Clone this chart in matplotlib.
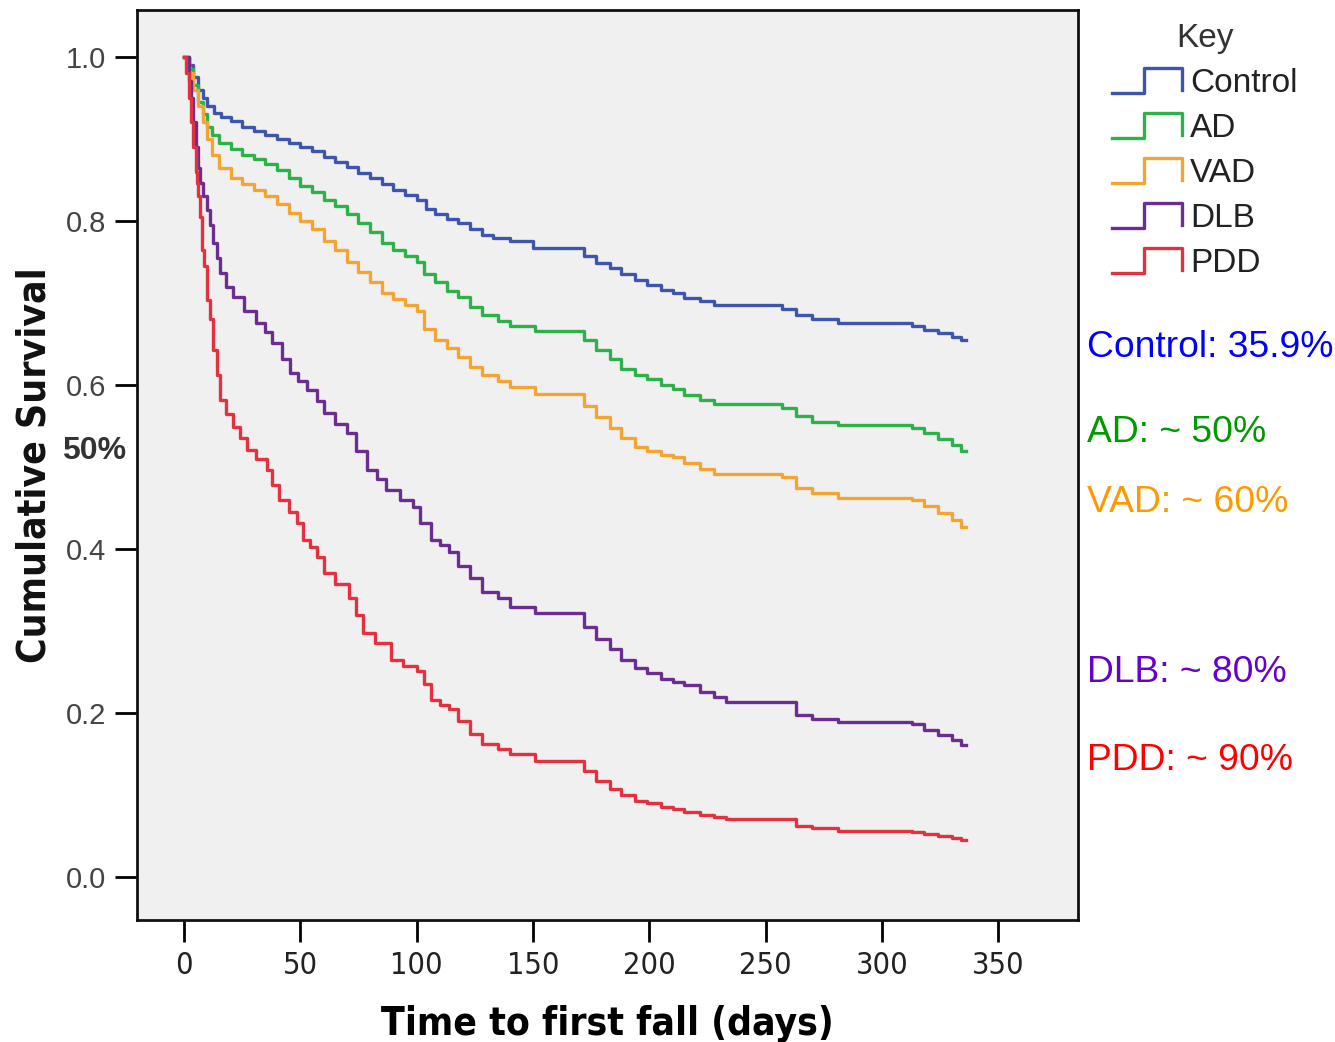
import numpy as np
import matplotlib
matplotlib.use('Agg')
import matplotlib.pyplot as plt
from matplotlib.lines import Line2D
from matplotlib.legend_handler import HandlerBase

# Kaplan-Meier step points (days, cumulative survival)
control_t = [0, 2, 4, 6, 8, 10, 13, 16, 20, 25, 30, 35, 40, 45, 50, 55, 60, 65, 70, 75,
             80, 85, 90, 95, 100, 104, 108, 113, 118, 123, 128, 133, 140, 150, 172, 177,
             183, 188, 194, 199, 205, 210, 215, 222, 228, 257, 263, 270, 281, 313, 318,
             324, 330, 334, 336]
control_s = [1.0, 0.99, 0.975, 0.96, 0.95, 0.94, 0.932, 0.927, 0.922, 0.915, 0.91, 0.905,
             0.9, 0.895, 0.89, 0.885, 0.878, 0.872, 0.866, 0.858, 0.852, 0.845, 0.838,
             0.832, 0.826, 0.815, 0.808, 0.802, 0.797, 0.79, 0.783, 0.779, 0.775, 0.767,
             0.757, 0.749, 0.742, 0.735, 0.728, 0.722, 0.716, 0.712, 0.706, 0.702, 0.698,
             0.693, 0.685, 0.68, 0.676, 0.672, 0.667, 0.663, 0.659, 0.655, 0.655]

ad_t = [0, 2, 4, 6, 8, 10, 12, 15, 20, 25, 30, 35, 40, 45, 50, 55, 60, 65, 70, 75, 80,
        85, 90, 95, 100, 103, 108, 113, 118, 123, 128, 135, 140, 151, 172, 177, 183, 188,
        194, 199, 205, 210, 215, 222, 228, 257, 263, 270, 281, 313, 318, 324, 330, 334, 336]
ad_s = [1.0, 0.985, 0.965, 0.945, 0.93, 0.915, 0.905, 0.895, 0.887, 0.88, 0.875, 0.869,
        0.862, 0.852, 0.843, 0.835, 0.826, 0.818, 0.808, 0.798, 0.786, 0.773, 0.765,
        0.757, 0.75, 0.735, 0.725, 0.715, 0.707, 0.695, 0.685, 0.678, 0.672, 0.666,
        0.655, 0.643, 0.632, 0.62, 0.612, 0.607, 0.6, 0.595, 0.588, 0.582, 0.577, 0.572,
        0.562, 0.555, 0.551, 0.548, 0.541, 0.534, 0.527, 0.52, 0.52]

vad_t = [0, 2, 4, 6, 8, 10, 12, 15, 20, 25, 30, 35, 40, 45, 50, 55, 60, 65, 70, 75, 80,
         85, 90, 95, 100, 103, 108, 113, 118, 123, 128, 135, 140, 151, 172, 177, 183,
         188, 194, 199, 205, 210, 215, 222, 228, 257, 263, 270, 281, 313, 318, 324, 330,
         334, 336]
vad_s = [1.0, 0.98, 0.96, 0.94, 0.92, 0.9, 0.88, 0.865, 0.852, 0.845, 0.838, 0.83, 0.82,
         0.81, 0.8, 0.79, 0.775, 0.765, 0.75, 0.738, 0.725, 0.712, 0.705, 0.697, 0.69,
         0.668, 0.655, 0.645, 0.634, 0.622, 0.612, 0.605, 0.598, 0.589, 0.575, 0.561,
         0.548, 0.535, 0.525, 0.52, 0.515, 0.512, 0.505, 0.498, 0.492, 0.488, 0.475,
         0.468, 0.462, 0.46, 0.452, 0.444, 0.435, 0.427, 0.427]

dlb_t = [0, 2, 3, 4, 5, 6, 7, 8, 10, 11, 12.5, 14, 15.5, 18, 21, 26, 31, 35, 38, 42,
         45.5, 49, 53, 57, 60, 65, 70, 74, 78.5, 83, 87, 93, 98.5, 101.5, 106, 110, 114,
         118, 123, 128, 135, 140, 151, 172, 177, 183, 188, 194, 199, 205, 210, 215, 222,
         228, 233, 263, 270, 281, 313, 318, 324, 330, 334, 336]
dlb_s = [1.0, 0.97, 0.95, 0.92, 0.89, 0.865, 0.846, 0.83, 0.813, 0.795, 0.773, 0.755,
         0.737, 0.72, 0.707, 0.69, 0.676, 0.665, 0.651, 0.632, 0.615, 0.605, 0.594, 0.58,
         0.566, 0.553, 0.541, 0.52, 0.496, 0.485, 0.472, 0.46, 0.451, 0.432, 0.411, 0.405,
         0.396, 0.38, 0.365, 0.348, 0.34, 0.33, 0.322, 0.305, 0.291, 0.278, 0.265, 0.255,
         0.249, 0.242, 0.238, 0.234, 0.226, 0.22, 0.214, 0.198, 0.193, 0.189, 0.187,
         0.18, 0.174, 0.167, 0.161, 0.161]

pdd_t = [0, 1, 2, 3, 4, 5, 5.6, 6, 7, 7.7, 8.5, 10, 11, 12.5, 14, 15.5, 18, 21, 24, 27,
         31, 35.5, 38, 41, 45, 48.5, 51, 54, 57, 60, 65, 71, 74, 77, 82, 89, 94, 100, 103,
         106, 110, 114, 118, 123, 128, 135, 140, 151, 172, 177, 183, 188, 194, 199, 205,
         210, 215, 222, 228, 233, 263, 270, 281, 313, 318, 324, 330, 334, 336]
pdd_s = [1.0, 0.98, 0.95, 0.92, 0.89, 0.86, 0.846, 0.83, 0.805, 0.765, 0.745, 0.704, 0.68,
         0.643, 0.612, 0.582, 0.565, 0.549, 0.535, 0.521, 0.51, 0.496, 0.478, 0.46, 0.445,
         0.432, 0.411, 0.402, 0.39, 0.371, 0.358, 0.341, 0.32, 0.298, 0.285, 0.265, 0.258,
         0.252, 0.235, 0.216, 0.21, 0.205, 0.19, 0.175, 0.163, 0.157, 0.15, 0.142, 0.13,
         0.118, 0.108, 0.1, 0.093, 0.09, 0.086, 0.083, 0.08, 0.076, 0.073, 0.071, 0.063,
         0.06, 0.057, 0.055, 0.053, 0.05, 0.048, 0.045, 0.045]

groups = ['Control', 'AD', 'VAD', 'DLB', 'PDD']
notes = ['Control: 35.9%', 'AD: ~ 50%', 'VAD: ~ 60%', 'DLB: ~ 80%', 'PDD: ~ 90%']
x_ticks = [0, 50, 100, 150, 200, 250, 300, 350]
y_ticks = [0.0, 0.2, 0.4, 0.6, 0.8, 1.0]

line_colors = ['#3d55aa', '#2fb14a', '#f2a532', '#6b2d8f', '#e2313f']
note_colors = ['#0000ff', '#009900', '#ff9900', '#6600cc', '#ff0000']
note_y = [348, 433, 503, 673, 760]


class StepHandler(HandlerBase):
    # draws the little "_|‾|" symbol SPSS uses in its survival legends
    def create_artists(self, legend, orig_handle, xdescent, ydescent, width, height, fontsize, trans):
        x0, y0 = -xdescent, -ydescent
        xs = [x0, x0 + 0.45 * width, x0 + 0.45 * width, x0 + width, x0 + width]
        ys = [y0 - 0.05 * height, y0 - 0.05 * height, y0 + 1.05 * height,
              y0 + 1.05 * height, y0 + 0.1 * height]
        ln = Line2D(xs, ys, color=orig_handle.get_color(), lw=orig_handle.get_linewidth())
        ln.set_transform(trans)
        return [ln]


W, H = 1335, 1042
fig = plt.figure(figsize=(W / 100, H / 100), dpi=100)
fig.patch.set_facecolor('white')
ax = fig.add_axes([137 / W, 1 - 920 / H, (1078 - 137) / W, (920 - 10) / H])
ax.set_facecolor('#f0f0f0')

series = [(control_t, control_s), (ad_t, ad_s), (vad_t, vad_s), (dlb_t, dlb_s), (pdd_t, pdd_s)]
handles = []
for (t, s), name, c in zip(series, groups, line_colors):
    h, = ax.plot(t, s, drawstyle='steps-post', color=c, lw=2.4, label=name)
    handles.append(h)

ax.set_xlim(-20.2, 384.3)
ax.set_ylim(-0.052, 1.057)
ax.set_xticks(x_ticks)
ax.set_yticks(y_ticks)
ax.set_xticklabels([str(v) for v in x_ticks], fontsize=22, color='#222222',
                   fontfamily='DejaVu Sans', fontstretch='condensed')
ax.set_yticklabels(['%.1f' % v for v in y_ticks], fontsize=21, color='#444444',
                   fontfamily='Liberation Sans')
ax.tick_params(axis='both', length=16, width=2, direction='out', pad=6)
for sp in ax.spines.values():
    sp.set_linewidth(2)
    sp.set_color('#111111')

ax.set_xlabel('Time to first fall (days)', fontsize=28, fontweight='bold',
              fontfamily='DejaVu Sans', fontstretch='condensed', labelpad=18)
fig.text(35 / W, 1 - 465 / H, 'Cumulative Survival', rotation=90, fontsize=28,
         fontweight='bold', fontfamily='DejaVu Sans', fontstretch='condensed',
         va='center', ha='center', color='#111111')

fig.text(62 / W, 1 - 451 / H, '50%', fontsize=23, fontweight='bold', color='#333333',
         fontfamily='Liberation Sans', va='center', ha='left')

leg = fig.legend(handles=handles, labels=groups, title='Key', loc='upper left',
                 bbox_to_anchor=(1082 / W, 1 + 7 / H), frameon=False,
                 handler_map={Line2D: StepHandler()},
                 prop={'family': 'Liberation Sans', 'size': 24},
                 title_fontproperties={'family': 'Liberation Sans', 'size': 24},
                 handlelength=2.1, handletextpad=0.25, labelspacing=0.42)
leg.get_title().set_color('#333333')
for txt in leg.get_texts():
    txt.set_color('#222222')

for label, c, y in zip(notes, note_colors, note_y):
    fig.text(1087 / W, 1 - y / H, label, color=c, fontsize=26.8,
             fontfamily='Liberation Sans', va='center', ha='left')

fig.savefig('out.png', dpi=100)
